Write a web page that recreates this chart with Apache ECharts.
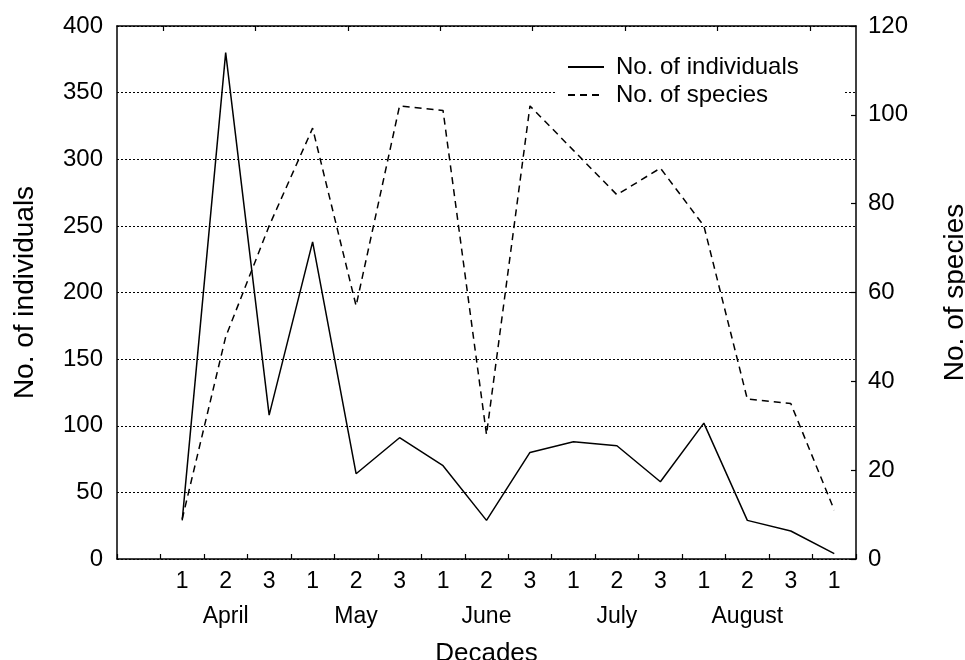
<!DOCTYPE html>
<html>
<head>
<meta charset="utf-8">
<script src="https://cdn.jsdelivr.net/npm/echarts@6/dist/echarts.min.js"></script>
<style>html,body{margin:0;padding:0;background:#fff}#c{width:965px;height:660px}</style>
</head>
<body>
<div id="c"></div>
<script>
var decades = ['', '1', '2', '3', '1', '2', '3', '1', '2', '3', '1', '2', '3', '1', '2', '3', '1'];
var months = ['April', 'May', 'June', 'July', 'August'];
var monthIndex = [2, 5, 8, 11, 14];
var individuals = [null, 29, 380, 108, 238, 64, 91, 70, 29, 80, 88, 85, 58, 102, 29, 21, 4];
var species = [null, 9, 50, 75, 97, 57, 102, 101, 28, 102, 92, 82, 88, 75, 36, 35, 11];
var leftTicks = {min: 0, max: 400, interval: 50};
var rightTicks = {min: 0, max: 120, interval: 20};

var monthRow = decades.map(function () { return ''; });
monthIndex.forEach(function (k, i) { monthRow[k] = months[i]; });
var topCats = ['', '', '', '', '', '', '', ''];

var FONT = 'Liberation Sans';
var chart = echarts.init(document.getElementById('c'));
chart.setOption({
  animation: false,
  backgroundColor: '#fff',
  textStyle: {fontFamily: FONT, color: '#000'},
  grid: {left: 117, right: 109, top: 26, bottom: 101, containLabel: false, outerBoundsMode: 'none'},
  legend: {
    orient: 'vertical',
    left: 555, top: 52,
    padding: [3, 45, 3, 12],
    backgroundColor: '#fff',
    itemWidth: 36, itemHeight: 14, itemGap: 4,
    itemStyle: {opacity: 0},
    textStyle: {fontFamily: FONT, fontSize: 24, color: '#000', lineHeight: 24, padding: [0, 0, 0, 7]},
    data: ['No. of individuals', 'No. of species']
  },
  xAxis: [
    {
      type: 'category', data: decades, position: 'bottom', boundaryGap: true,
      name: 'Decades', nameLocation: 'middle', nameGap: 82,
      nameTextStyle: {fontFamily: FONT, fontSize: 26, color: '#000'},
      axisLine: {show: true, lineStyle: {color: '#000', width: 1.5}},
      axisTick: {show: true, inside: true, length: 5, interval: 0, lineStyle: {color: '#000', width: 1.2}},
      axisLabel: {interval: 0, margin: 11, fontFamily: FONT, fontSize: 23, color: '#000'},
      splitLine: {show: false}
    },
    {
      type: 'category', data: monthRow, position: 'bottom', boundaryGap: true,
      axisLine: {show: false}, axisTick: {show: false},
      axisLabel: {interval: 0, margin: 46, fontFamily: FONT, fontSize: 23, color: '#000'},
      splitLine: {show: false}
    },
    {
      type: 'category', data: topCats, position: 'top', boundaryGap: true,
      axisLine: {show: true, lineStyle: {color: '#000', width: 1.5}},
      axisTick: {show: true, inside: true, length: 5, interval: 0, alignWithLabel: true, lineStyle: {color: '#000', width: 1.2}},
      axisLabel: {show: false},
      splitLine: {show: false}
    }
  ],
  yAxis: [
    {
      type: 'value', min: leftTicks.min, max: leftTicks.max, interval: leftTicks.interval,
      position: 'left',
      name: 'No. of individuals', nameLocation: 'middle', nameGap: 78,
      nameTextStyle: {fontFamily: FONT, fontSize: 28, color: '#000'},
      axisLine: {show: true, lineStyle: {color: '#000', width: 1.5}},
      axisTick: {show: false},
      axisLabel: {margin: 14, fontFamily: FONT, fontSize: 24, color: '#000'},
      splitLine: {show: true, lineStyle: {color: '#000', width: 1, type: [2, 2]}}
    },
    {
      type: 'value', min: rightTicks.min, max: rightTicks.max, interval: rightTicks.interval,
      position: 'right',
      name: 'No. of species', nameLocation: 'middle', nameGap: 85,
      nameTextStyle: {fontFamily: FONT, fontSize: 28, color: '#000'},
      axisLine: {show: true, lineStyle: {color: '#000', width: 1.5}},
      axisTick: {show: true, inside: true, length: 5, lineStyle: {color: '#000', width: 1.2}},
      axisLabel: {margin: 12, fontFamily: FONT, fontSize: 24, color: '#000'},
      splitLine: {show: false}
    }
  ],
  series: [
    {
      name: 'No. of individuals', type: 'line', xAxisIndex: 0, yAxisIndex: 0,
      data: individuals, symbol: 'none', connectNulls: false,
      lineStyle: {color: '#000', width: 1.5, type: 'solid'},
      itemStyle: {color: '#000'}
    },
    {
      name: 'No. of species', type: 'line', xAxisIndex: 0, yAxisIndex: 1,
      data: species, symbol: 'none', connectNulls: false,
      lineStyle: {color: '#000', width: 1.5, type: [7, 5]},
      itemStyle: {color: '#000'}
    }
  ]
});
</script>
</body>
</html>
